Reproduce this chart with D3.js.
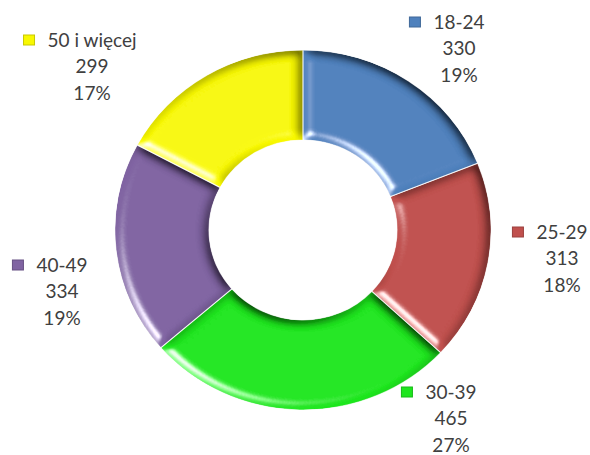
<!DOCTYPE html>
<html><head><meta charset="utf-8">
<script src="https://cdn.jsdelivr.net/npm/d3@7/dist/d3.min.js"></script>
<style>
html,body{margin:0;padding:0;background:#fff;}
svg text{font-family:Lato,"Open Sans",sans-serif;fill:#404040;}
</style></head>
<body>
<svg id="chart" width="590" height="455"></svg>
<script>
// ---- data ----
const categories = ["18-24", "25-29", "30-39", "40-49", "50 i więcej"];
const values = [330, 313, 465, 334, 299];
const percentLabels = ["19%", "18%", "27%", "19%", "17%"];
const colors = ["#4f81bd", "#c0504d", "#1ee61e", "#8064a2", "#f8f800"];

// ---- layout (label anchors: x center of text block, y of first line) ----
const labelLayout = [
  {x: 459, y: 22},
  {x: 562, y: 232},
  {x: 451, y: 392},
  {x: 62, y: 265},
  {x: 92, y: 40}
];

const svg = d3.select("#chart");
const cx = 303, cy = 230, R = 180, r = 90;

const defs = svg.append("defs");
const f = defs.append("filter").attr("id", "bevel")
  .attr("x", "-10%").attr("y", "-10%").attr("width", "120%").attr("height", "120%");
f.append("feGaussianBlur").attr("in", "SourceAlpha").attr("stdDeviation", 5).attr("result", "blur");
const spec = f.append("feSpecularLighting").attr("in", "blur").attr("surfaceScale", 7)
  .attr("specularConstant", 1.1).attr("specularExponent", 30)
  .attr("lighting-color", "#ffffff").attr("result", "spec");
spec.append("feDistantLight").attr("azimuth", 135).attr("elevation", 25);
f.append("feComposite").attr("in", "spec").attr("in2", "SourceAlpha").attr("operator", "in").attr("result", "specIn");
const diff = f.append("feDiffuseLighting").attr("in", "blur").attr("surfaceScale", 6)
  .attr("diffuseConstant", 1.3).attr("lighting-color", "#ffffff").attr("result", "diff");
diff.append("feDistantLight").attr("azimuth", 135).attr("elevation", 50);
f.append("feComposite").attr("in", "SourceGraphic").attr("in2", "diff").attr("operator", "arithmetic")
  .attr("k1", 1).attr("k2", 0).attr("k3", 0).attr("k4", 0).attr("result", "shaded");
f.append("feComposite").attr("in", "shaded").attr("in2", "specIn").attr("operator", "arithmetic")
  .attr("k1", 0).attr("k2", 1).attr("k3", 0.8).attr("k4", 0).attr("result", "lit");
f.append("feComposite").attr("in", "lit").attr("in2", "SourceAlpha").attr("operator", "in");

const data = categories.map((c, i) => ({cat: c, value: values[i], pct: percentLabels[i], color: colors[i], i}));
const pie = d3.pie().value(d => d.value).sort(null);
const arc = d3.arc().innerRadius(r).outerRadius(R);

const g = svg.append("g").attr("transform", `translate(${cx},${cy}) scale(1.045,1)`);
g.selectAll("path").data(pie(data)).join("path")
  .attr("d", arc)
  .attr("fill", d => d.data.color)
  .attr("filter", "url(#bevel)");
g.selectAll("path.sep").data(pie(data)).join("path")
  .attr("class", "sep")
  .attr("d", arc)
  .attr("fill", "none")
  .attr("stroke", "#ffffff")
  .attr("stroke-opacity", 0.6)
  .attr("stroke-width", 1);

// labels
const fs = 19, lh = 26.5;
const lab = svg.selectAll("g.lab").data(data).join("g").attr("class", "lab")
  .attr("transform", d => `translate(${labelLayout[d.i].x},${labelLayout[d.i].y})`);
lab.append("text").attr("text-anchor", "middle").attr("dy", "0.35em").attr("font-size", fs)
  .text(d => d.cat);
lab.append("text").attr("text-anchor", "middle").attr("y", lh).attr("dy", "0.35em").attr("font-size", fs)
  .text(d => d.value);
lab.append("text").attr("text-anchor", "middle").attr("y", 2 * lh).attr("dy", "0.35em").attr("font-size", fs)
  .text(d => d.pct);
lab.each(function(d) {
  const t = d3.select(this).select("text").node();
  const w = t.getComputedTextLength();
  d3.select(this).append("rect")
    .attr("x", -w / 2 - 24).attr("y", -5).attr("width", 11).attr("height", 10)
    .attr("fill", d.color).attr("stroke", d3.color(d.color).darker(0.6)).attr("stroke-width", 1);
});
</script>
</body></html>
